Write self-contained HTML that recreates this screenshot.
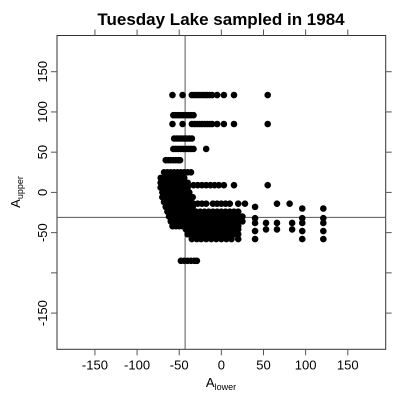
<!DOCTYPE html>
<html><head><meta charset="utf-8"><style>
body{margin:0;background:#fff}
svg{display:block;font-family:"Liberation Sans",Arial,sans-serif}
</style></head><body>
<svg id="chart" width="400" height="400" xmlns="http://www.w3.org/2000/svg">
<text x="221" y="25" text-anchor="middle" font-size="17" font-weight="bold">Tuesday Lake sampled in 1984</text>
<g id="axes"></g>
<g id="pts"></g>
<text x="221" y="387" text-anchor="middle" font-size="13">A<tspan font-size="9" dy="3">lower</tspan></text>
<text transform="translate(20,192) rotate(-90)" text-anchor="middle" font-size="13">A<tspan font-size="9" dy="3">upper</tspan></text>
</svg>
<script>
const xTicks=[-150,-100,-50,0,50,100,150];
const xTickLabels=["-150","-100","-50","0","50","100","150"];
const yTicks=[-150,-100,-50,0,50,100,150];
const yTickLabels=["-150","","-50","0","50","100","150"];
const refX=-43;
const refY=-31;
const rowY=[121,85,96,67,54,40,25,18,12,9,6,0,-6,-12,-14,-18,-20,-24,-30,-32,-36,-38,-42,-46,-48,-52,-58,-85];
const rowXs=[
[-58,-46,-35,-32,-29,-26,-23,-20,-17,-14,-11,-5,3,15,55],
[-58,-46,-35,-32,-29,-26,-23,-20,-17,-14,-11,-5,3,15,55],
[-57,-54,-51,-48,-45,-42,-39,-36,-33],
[-56,-53,-50,-47,-44,-41,-38,-35],
[-57,-54,-51,-48,-45,-42,-39,-36,-33,-18],
[-66,-63,-60,-57,-54,-51,-49],
[-68,-64,-60,-56,-52,-48,-44,-40,-36],
[-72,-68,-64,-60,-56,-52,-48,-44],
[-72,-68,-64,-60,-56,-52,-48,-44,-40],
[-40,-33,-28,-23,-18,-13,-8,-3,3,15,55],
[-72,-68,-64,-60,-56,-52,-48,-44,-40],
[-70,-66,-62,-58,-54,-50,-46,-42,-38],
[-70,-66,-62,-58,-54,-50,-46,-42,-38,-34],
[-68,-64,-60,-56,-52,-48,-44,-40,-36],
[-33,-28,-23,-18,-10,-5,0,5,10,20,28,66,81],
[-66,-62,-58,-54,-50,-46,-42,-38,-34,40],
[96,121],
[-64,-60,-56,-52,-48,-44,-40,-36,-30,-25,-20,-15,-10,-5,0,5,10,15,20],
[-62,-58,-54,-50,-46,-42,-38,-34,-30,-25,-20,-15,-10,-5,0,5,10,15,20,25],
[40,96,121],
[-60,-56,-52,-48,-44,-40,-36,-30,-25,-20,-15,-10,-5,0,5,10,15,20,25],
[40,53,66,84,96,121],
[-58,-54,-50,-46,-42,-38,-34,-30,-25,-20,-15,-10,-5,0,5,10,15,20],
[-42,-38,-34,-30,-25,-20,-15,-10,-5,0,5,10,15,20,53,66,84],
[40,96,121],
[-40,-35,-30,-25,-20,-15,-10,-5,0,5,10,15,20],
[-35,-29,-24,-18,-12,-6,0,6,12,20,40,96,121],
[-48,-44,-40,-36,-32,-29]
];
const X0=57,X1=385.7,Y0=35.5,Y1=349.3,D=195;
const sx=v=>X0+(v+D)/(2*D)*(X1-X0);
const sy=v=>Y1-(v+D)/(2*D)*(Y1-Y0);
const NS="http://www.w3.org/2000/svg";
const ax=document.getElementById('axes'),pg=document.getElementById('pts');
function mk(tag,at,par){const e=document.createElementNS(NS,tag);for(const k in at)e.setAttribute(k,at[k]);par.appendChild(e);return e;}
const fr=mk('rect',{x:X0,y:Y0,width:X1-X0,height:Y1-Y0,fill:'none',stroke:'#333','stroke-width':1},ax);


xTicks.forEach((t,i)=>{
 const x=sx(t);
 const a=mk('line',{x1:x,x2:x,y1:Y1,y2:Y1+6,stroke:'#555'},ax);
 
 
 const b=mk('line',{x1:x,x2:x,y1:Y0,y2:Y0-6,stroke:'#555'},ax);
 
 
 const l=mk('text',{x:x,y:Y1+20,'text-anchor':'middle','font-size':13},ax);
 l.textContent=xTickLabels[i];
 
 
});
yTicks.forEach((t,i)=>{
 const y=sy(t);
 const a=mk('line',{x1:X0,x2:X0-6,y1:y,y2:y,stroke:'#555'},ax);
 
 
 const b=mk('line',{x1:X1,x2:X1+6,y1:y,y2:y,stroke:'#555'},ax);
 
 
 if(yTickLabels[i]){
 const l=mk('text',{transform:`translate(${X0-10},${y}) rotate(-90)`,'text-anchor':'middle','font-size':13},ax);
 l.textContent=yTickLabels[i];
 
 }
});
const vl=mk('line',{x1:sx(refX),x2:sx(refX),y1:Y0,y2:Y1,stroke:'#555'},ax);


const hl=mk('line',{x1:X0,x2:X1,y1:sy(refY),y2:sy(refY),stroke:'#555'},ax);


rowY.forEach((yv,i)=>{rowXs[i].forEach(xv=>{
 const c=mk('circle',{cx:sx(xv),cy:sy(yv),r:3.3,fill:'#000'},pg);
 
 
});});
</script>
</body></html>
